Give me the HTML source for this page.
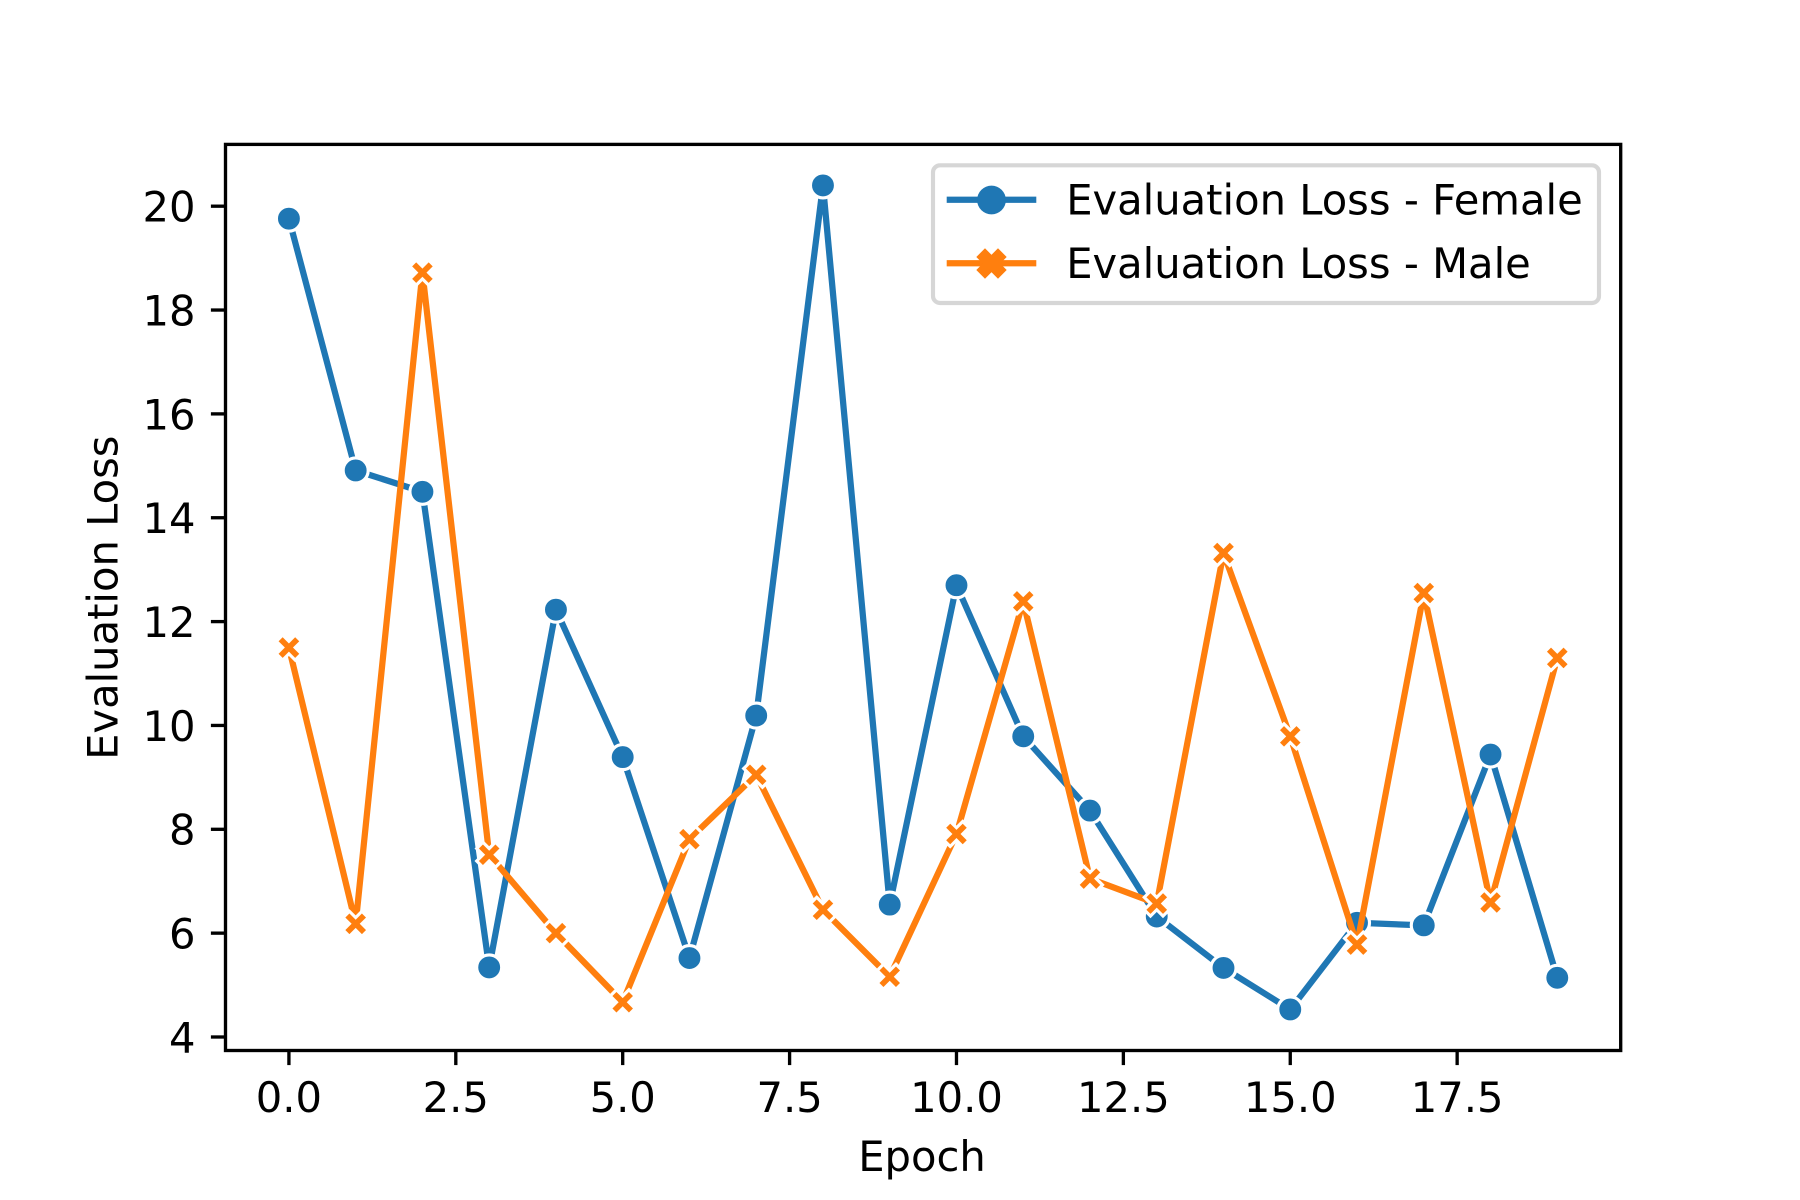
<!DOCTYPE html>
<html lang="en">
<head>
<meta charset="utf-8">
<title>Evaluation Loss by Epoch</title>
<style>
  html, body { margin: 0; padding: 0; background: #ffffff; }
  body { width: 1800px; height: 1200px; overflow: hidden; }
  svg { display: block; }
  text { font-family: "DejaVu Sans", "Liberation Sans", sans-serif; font-size: 41.67px; fill: #000000; }
</style>
</head>
<body>
<svg id="chart" xmlns="http://www.w3.org/2000/svg" width="1800" height="1200" viewBox="0 0 1800 1200">
  <rect x="0" y="0" width="1800" height="1200" fill="#ffffff"/>
  <g id="ticks"></g>
  <g id="series"></g>
  <rect id="frame" fill="none" stroke="#000000" stroke-width="3.33"/>
  <text x="922" y="1171" text-anchor="middle">Epoch</text>
  <text transform="translate(117.5 597.7) rotate(-90)" text-anchor="middle">Evaluation Loss</text>
  <g>
    <rect x="933" y="165.3" width="666" height="137.7" rx="7" ry="7" fill="#ffffff" fill-opacity="0.8" stroke="#cccccc" stroke-opacity="0.8" stroke-width="4.17"/>
    <g>
      <line x1="946.7" y1="199.7" x2="1036.3" y2="199.7" stroke="#1f77b4" stroke-width="6.25"/>
      <circle cx="991.5" cy="200" r="14.4" fill="#1f77b4"/>
      <text x="1066.2" y="214.5">Evaluation Loss - Female</text>
    </g>
    <g>
      <line x1="946.7" y1="263.2" x2="1036.3" y2="263.2" stroke="#ff7f0e" stroke-width="6.25"/>
      <polygon points="985,250.5 991.5,257 998,250.5 1004.5,257 998,263.5 1004.5,270 998,276.5 991.5,270 985,276.5 978.5,270 985,263.5 978.5,257" fill="#ff7f0e" stroke="#ff7f0e" stroke-width="3.1" stroke-linejoin="miter"/>
      <text x="1066.2" y="278">Evaluation Loss - Male</text>
    </g>
  </g>
</svg>
<script>
const epochs = [0, 1, 2, 3, 4, 5, 6, 7, 8, 9, 10, 11, 12, 13, 14, 15, 16, 17, 18, 19];
const femaleLoss = [19.76, 14.91, 14.5, 5.34, 12.23, 9.39, 5.52, 10.19, 20.4, 6.55, 12.7, 9.79, 8.36, 6.32, 5.33, 4.53, 6.2, 6.15, 9.44, 5.14];
const maleLoss = [11.5, 6.18, 18.72, 7.51, 6.0, 4.67, 7.81, 9.05, 6.45, 5.16, 7.91, 12.39, 7.05, 6.57, 13.32, 9.79, 5.78, 12.55, 6.59, 11.3];
const xTickLabels = ["0.0", "2.5", "5.0", "7.5", "10.0", "12.5", "15.0", "17.5"];
const yTickLabels = ["4", "6", "8", "10", "12", "14", "16", "18", "20"];

const SVG_NS = 'http://www.w3.org/2000/svg';
const plotLeft = 225.5, plotRight = 1620.7, plotTop = 144.4, plotBottom = 1050.5;
const xDomainMin = -0.95, xDomainMax = 19.95;
const yDomainMin = 3.74, yDomainMax = 21.19;

function xScale(v) {
  return plotLeft + (v - xDomainMin) / (xDomainMax - xDomainMin) * (plotRight - plotLeft);
}
function yScale(v) {
  return plotBottom - (v - yDomainMin) / (yDomainMax - yDomainMin) * (plotBottom - plotTop);
}
function make(tag, attrs, parent) {
  const el = document.createElementNS(SVG_NS, tag);
  Object.keys(attrs).forEach(function (k) { el.setAttribute(k, attrs[k]); });
  parent.appendChild(el);
  return el;
}

const frame = document.getElementById('frame');
frame.setAttribute('x', plotLeft);
frame.setAttribute('y', plotTop);
frame.setAttribute('width', plotRight - plotLeft);
frame.setAttribute('height', plotBottom - plotTop);

const tickLayer = document.getElementById('ticks');
xTickLabels.forEach(function (label) {
  const x = xScale(parseFloat(label));
  const tick = make('line', { x1: x, x2: x, y1: plotBottom, y2: plotBottom + 14.6, stroke: '#000', 'stroke-width': 3.33 }, tickLayer);
  
  
  const text = make('text', { x: x, y: 1112, 'text-anchor': 'middle' }, tickLayer);
  text.textContent = label;
  
  
});
yTickLabels.forEach(function (label) {
  const y = yScale(parseFloat(label));
  const tick = make('line', { x1: plotLeft - 14.6, x2: plotLeft, y1: y, y2: y, stroke: '#000', 'stroke-width': 3.33 }, tickLayer);
  
  
  const text = make('text', { x: 195.5, y: y + 15.4, 'text-anchor': 'end' }, tickLayer);
  text.textContent = label;
  
  
});

const seriesLayer = document.getElementById('series');
const xShape = [[-1,-2],[0,-1],[1,-2],[2,-1],[1,0],[2,1],[1,2],[0,1],[-1,2],[-2,1],[-1,0],[-2,-1]];

function drawSeries(values, color, kind) {
  const group = make('g', {}, seriesLayer);
  
  
  const pts = values.map(function (v, i) { return xScale(epochs[i]) + ',' + yScale(v); }).join(' ');
  const line = make('polyline', { points: pts, fill: 'none', stroke: color, 'stroke-width': 6.25, 'stroke-linejoin': 'round', 'stroke-linecap': 'round' }, group);
  
  
  values.forEach(function (v, i) {
    const cx = xScale(epochs[i]), cy = yScale(v);
    let mark;
    if (kind === 'female') {
      mark = make('circle', { cx: cx, cy: cy, r: 12.5, fill: color, stroke: '#ffffff', 'stroke-width': 3.125 }, group);
    } else {
      const poly = xShape.map(function (p) { return (cx + p[0] * 6.25) + ',' + (cy + p[1] * 6.25); }).join(' ');
      mark = make('polygon', { points: poly, fill: color, stroke: '#ffffff', 'stroke-width': 3.125, 'stroke-linejoin': 'miter' }, group);
    }
    
    
  });
}
drawSeries(femaleLoss, '#1f77b4', 'female');
drawSeries(maleLoss, '#ff7f0e', 'male');
</script>
</body>
</html>
